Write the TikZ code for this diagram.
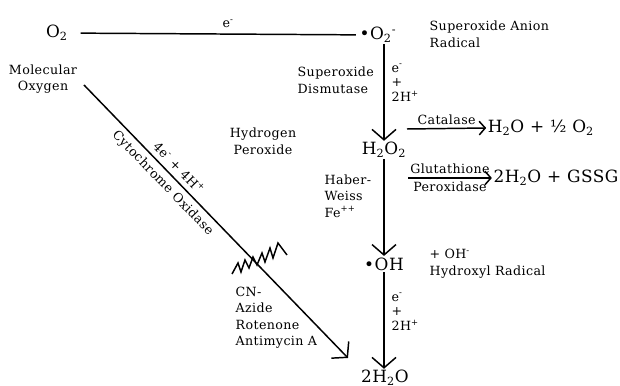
\documentclass[tikz,border=0pt]{standalone}
\usepackage{fontspec}
\setmainfont[LetterSpace=3]{DejaVu Serif}
\usepackage{tikz}
\usetikzlibrary{arrows.meta, positioning, calc}

\begin{document}
\begin{tikzpicture}[x=0.025cm, y=-0.025cm,
  lbl/.style={font=\fontsize{9}{11.8}\selectfont, inner sep=1pt, align=left},
  tight/.style={font=\fontsize{9}{10.4}\selectfont, inner sep=1pt, align=left},
  chem/.style={font=\fontsize{12}{14}\selectfont, inner sep=1pt},
  wire/.style={line width=1.05pt},
  arr/.style={wire, -{Straight Barb[length=2.6mm, width=6mm]}},
  sarr/.style={wire, -{Straight Barb[length=1.5mm, width=3.4mm]}}]
  \useasboundingbox (0,0) rectangle (620,386);
  % species
  \node[chem] (o2)   at (57,33)   {O\textsubscript{2}};
  \node[chem] (sup)  at (378,35)  {•O\textsubscript{2}\textsuperscript{-}};
  \node[chem] (h2o2) at (384,150) {H\textsubscript{2}O\textsubscript{2}};
  \node[chem] (oh)   at (384,264) {•OH};
  \node[chem] (h2o)  at (385,378) {2H\textsubscript{2}O};
  \node[chem] (prod1) at (541,128) {H\textsubscript{2}O + ½ O\textsubscript{2}};
  \node[chem] (prod2) at (556,178) {2H\textsubscript{2}O + GSSG};
  % names
  \node[lbl, align=center] (mol) at (43,79) {Molecular\\Oxygen};
  \node[lbl, anchor=west] (supname) at (428,34) {Superoxide Anion\\Radical};
  \node[lbl, align=center] (hpname) at (263,141) {Hydrogen\\Peroxide};
  \node[lbl, anchor=west] (ohname) at (428,264) {+ OH\textsuperscript{-}\\Hydroxyl Radical};
  \node[lbl, anchor=west] (sod) at (296,80) {Superoxide\\Dismutase};
  \node[lbl, anchor=west] (hw) at (323,196) {Haber-\\Weiss\\Fe\textsuperscript{++}};
  \node[lbl, anchor=north west] (inhib) at (234,285) {CN-\\Azide\\Rotenone\\Antimycin A};
  \node[tight, anchor=west] (red1) at (390,83) {e\textsuperscript{-}\\+\\2H\textsuperscript{+}};
  \node[tight, anchor=west] (red2) at (390,312) {e\textsuperscript{-}\\+\\2H\textsuperscript{+}};
  % free ends
  \coordinate (cyt0) at (84,85);
  \coordinate (cyt1) at (348,358);
  \coordinate (cat0) at (407,129);
  \coordinate (gpx0) at (408,178);
  % one-electron reduction
  \draw[wire, shorten <=2.8mm, shorten >=0.5mm] (o2) -- (sup)
    node[lbl, pos=0.55, above=3pt] {e\textsuperscript{-}};
  % down the chain
  \draw[arr] (sup.south -| h2o2.north) -- (h2o2.north);
  \draw[arr] (h2o2.south) -- (h2o2.south |- oh.north);
  \draw[arr] (h2o2.south |- oh.south) -- (h2o2.south |- h2o.north);
  % side reactions
  \draw[sarr] (cat0) -- (prod1.west) node[lbl, midway, above=1pt] {Catalase};
  \draw[sarr] (gpx0) -- (prod2.west)
    node[lbl, midway, above=1.5pt] {Glutathione}
    node[lbl, midway, below=1.5pt] {Peroxidase};
  % four-electron route
  \draw[arr] (cyt0) -- (cyt1)
    node[lbl, pos=0.33, sloped, above=2.5pt] {4e\textsuperscript{-} + 4H\textsuperscript{+}}
    node[lbl, pos=0.33, sloped, below=2.5pt] {Cytochrome Oxidase};
  % block
  \draw[wire] (232,274) -- (238,263) -- (241,272) -- (245,260) -- (249,268)
    -- (253,257) -- (257,265) -- (262,253) -- (265,262) -- (270,248)
    -- (273,258) -- (278,243) -- (287,255);
\end{tikzpicture}
\end{document}
